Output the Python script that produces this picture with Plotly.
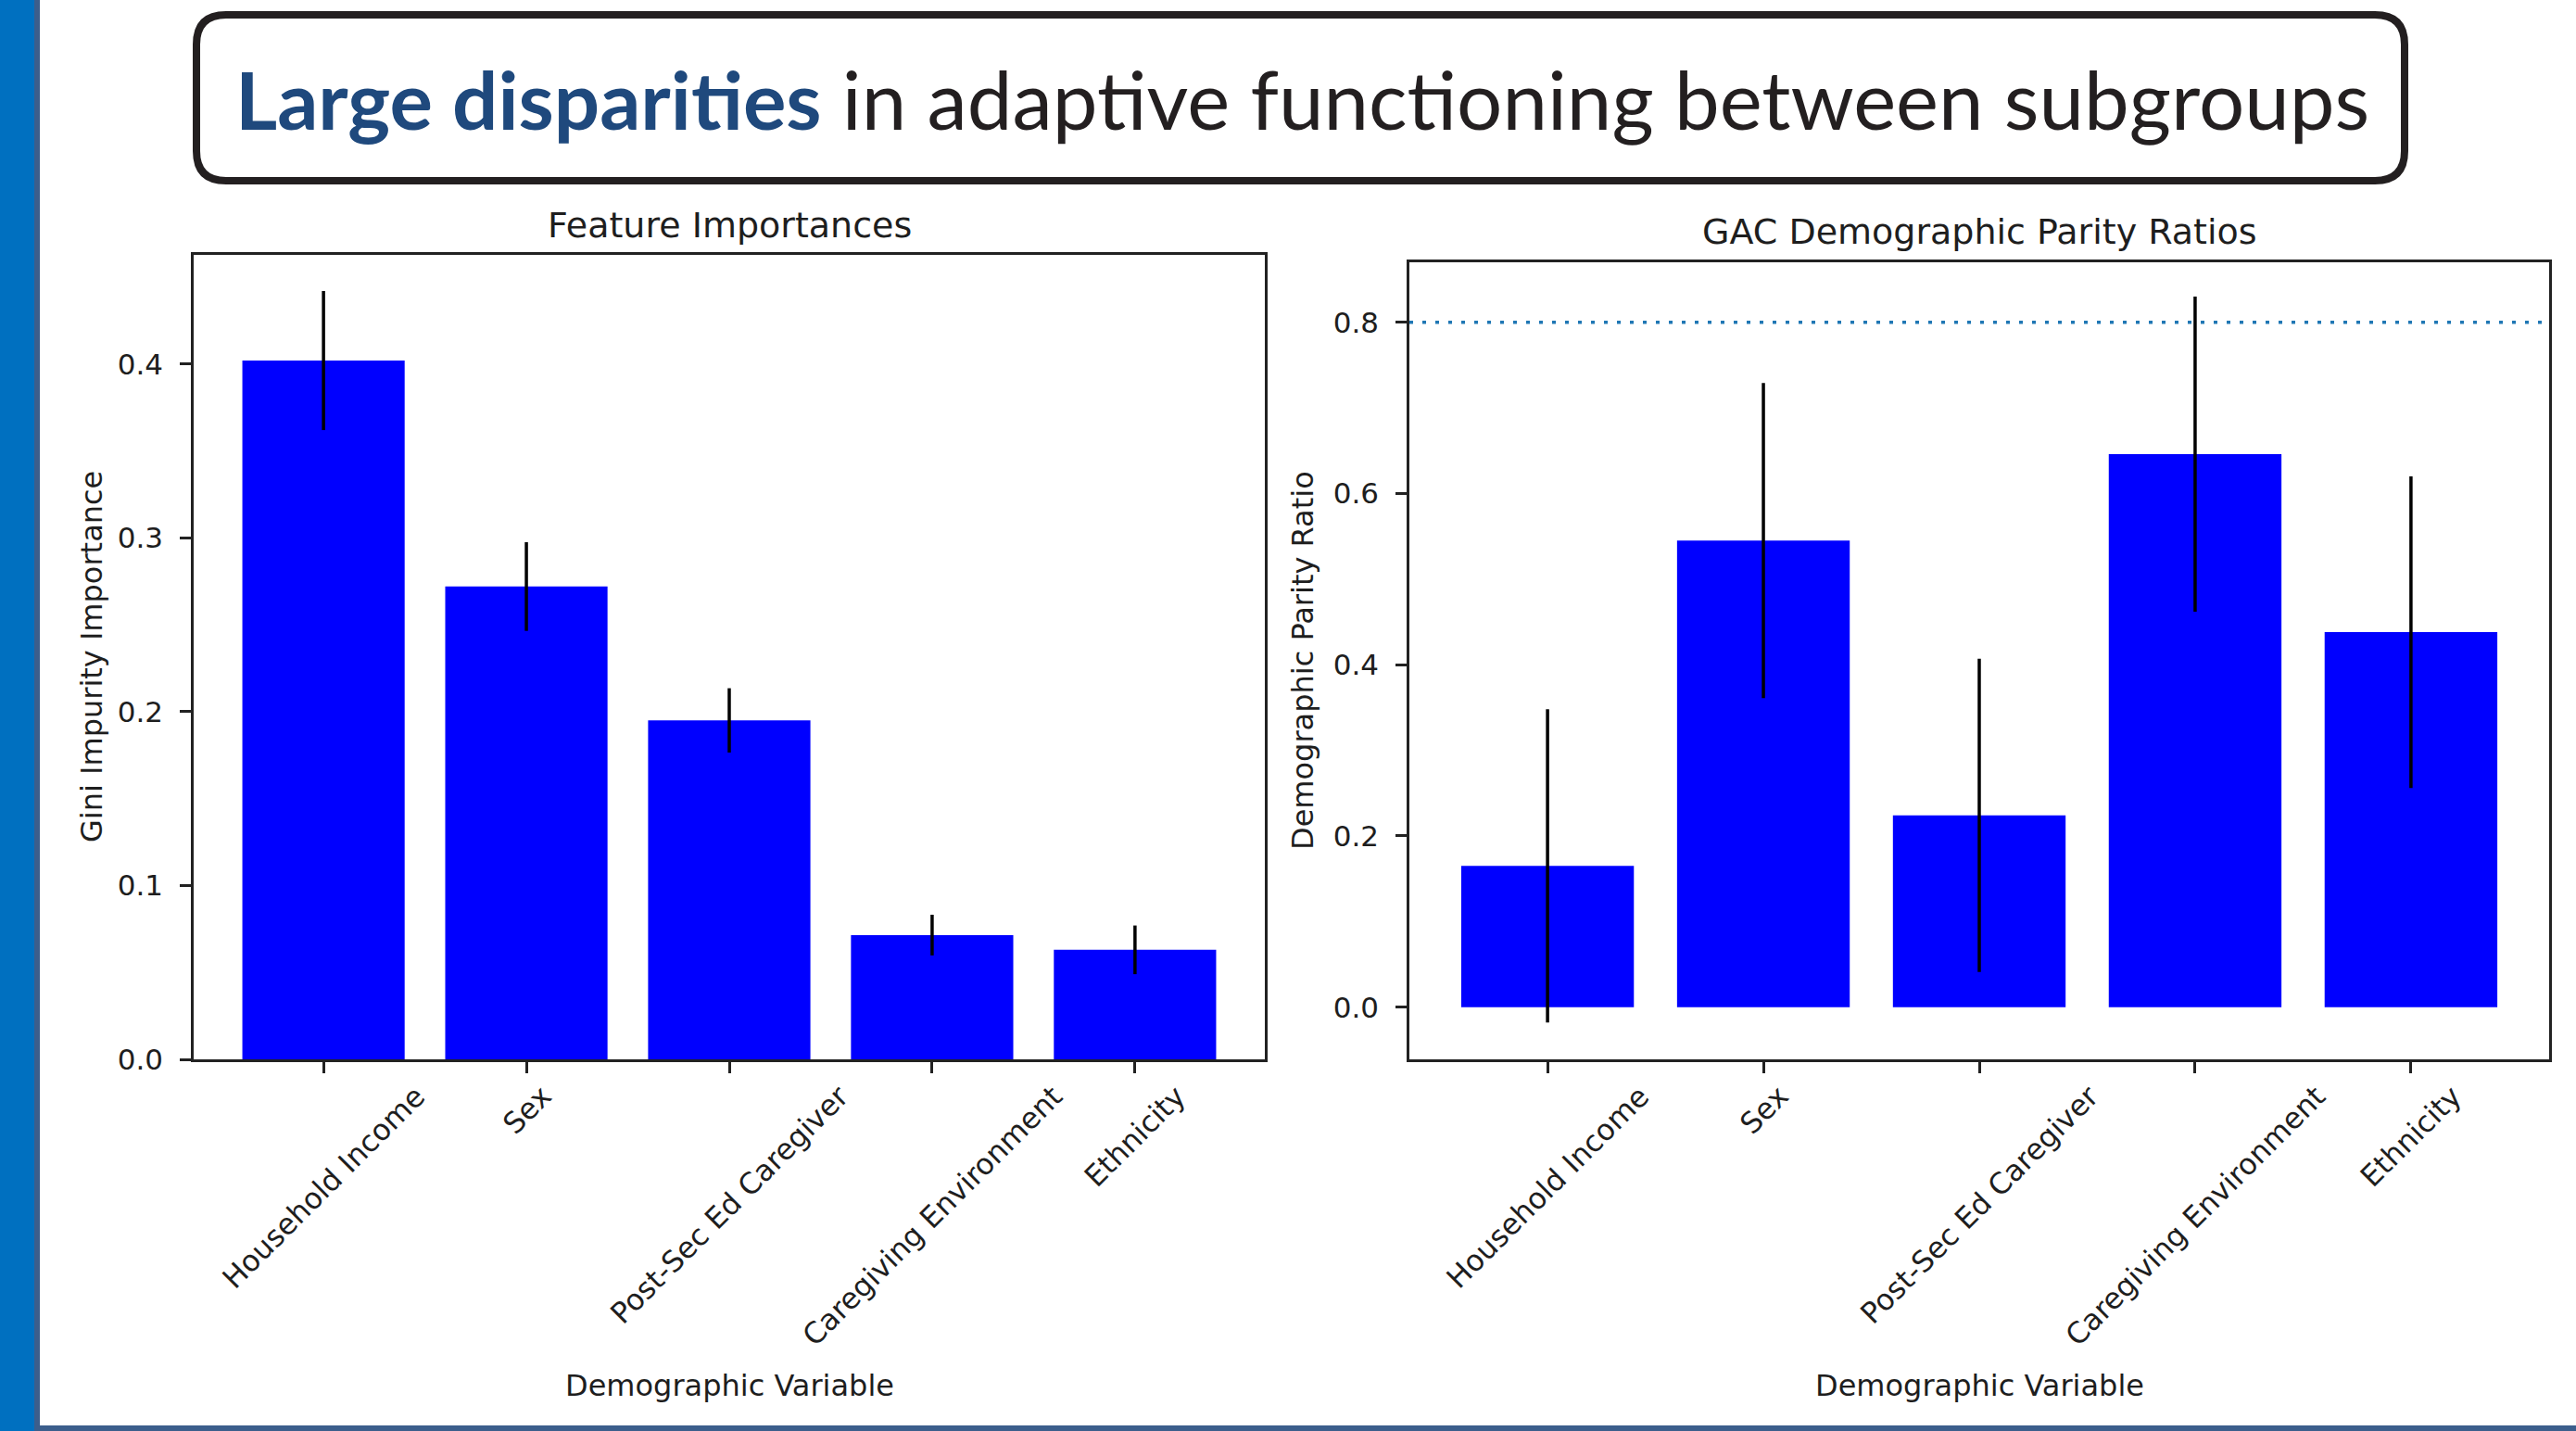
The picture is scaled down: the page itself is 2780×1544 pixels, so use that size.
import plotly.graph_objects as go

W, H = 2780, 1544

# ---------------- data ----------------
categories = ["Household Income", "Sex", "Post-Sec Ed Caregiver",
              "Caregiving Environment", "Ethnicity"]
gini_importance = [0.402, 0.272, 0.195, 0.0715, 0.063]
gini_err = [0.040, 0.0255, 0.0185, 0.0117, 0.014]
parity_ratio = [0.165, 0.545, 0.224, 0.646, 0.438]
parity_err = [0.183, 0.184, 0.183, 0.184, 0.182]
parity_threshold = 0.8
left_yticks = [0.0, 0.1, 0.2, 0.3, 0.4]
right_yticks = [0.0, 0.2, 0.4, 0.6, 0.8]

headline_bold = "Large disparities"
headline_rest = " in adaptive functioning between subgroups"
left_title = "Feature Importances"
right_title = "GAC Demographic Parity Ratios"
left_ylabel = "Gini Impurity Importance"
right_ylabel = "Demographic Parity Ratio"
xlabel = "Demographic Variable"

# ---------------- helpers ----------------
def px(x):
    return x / W

def py(y):
    return 1 - y / H

TXT = "#1e1e1e"
FONT = "DejaVu Sans"
BAR = "#0000FF"

fig = go.Figure()

err_style = dict(type="data", visible=True, color="black", thickness=3.5, width=0)
fig.add_trace(go.Bar(x=categories, y=gini_importance, width=0.8,
                     marker=dict(color=BAR, line=dict(width=0)),
                     error_y=dict(array=gini_err, **err_style),
                     xaxis="x", yaxis="y", showlegend=False))
fig.add_trace(go.Bar(x=categories, y=parity_ratio, width=0.8,
                     marker=dict(color=BAR, line=dict(width=0)),
                     error_y=dict(array=parity_err, **err_style),
                     xaxis="x2", yaxis="y2", showlegend=False))

axis_common = dict(showline=True, linecolor="#222", linewidth=2.5, mirror=True,
                   ticks="outside", ticklen=12, tickwidth=2.5, tickcolor="#222",
                   showgrid=False, zeroline=False,
                   tickfont=dict(family=FONT, size=31, color=TXT))

L = (209, 1365, 275, 1143)
R = (1521, 2751, 283, 1143)

fig.update_layout(
    width=W, height=H, template="none",
    margin=dict(l=0, r=0, t=0, b=0),
    paper_bgcolor="white", plot_bgcolor="white",
    xaxis=dict(domain=[px(L[0]), px(L[1])], range=[-0.64, 4.64],
               showticklabels=False, anchor="y", **axis_common),
    yaxis=dict(domain=[py(L[3]), py(L[2])], range=[0, 0.4628],
               tickvals=left_yticks, tickformat=".1f", anchor="x",
               ticklabelstandoff=12, **axis_common),
    xaxis2=dict(domain=[px(R[0]), px(R[1])], range=[-0.64, 4.64],
                showticklabels=False, anchor="y2", **axis_common),
    yaxis2=dict(domain=[py(R[3]), py(R[2])], range=[-0.061, 0.870],
                tickvals=right_yticks, tickformat=".1f", anchor="x2",
                ticklabelstandoff=12, **axis_common),
)

annotations = []
# rotated category labels (centred under tick, like matplotlib rotation=45)
for xa, ya in (("x", "y"), ("x2", "y2")):
    for c in categories:
        annotations.append(dict(x=c, xref=xa, y=0, yref=ya + " domain",
                                text=c, showarrow=False, textangle=-45,
                                xanchor="center", yanchor="top", yshift=-19,
                                font=dict(family=FONT, size=31.5, color=TXT)))

# subplot titles
annotations.append(dict(x=px((L[0] + L[1]) / 2), y=py(243), xref="paper", yref="paper",
                        text=left_title, showarrow=False, xanchor="center", yanchor="middle",
                        font=dict(family=FONT, size=38, color=TXT)))
annotations.append(dict(x=px((R[0] + R[1]) / 2), y=py(250), xref="paper", yref="paper",
                        text=right_title, showarrow=False, xanchor="center", yanchor="middle",
                        font=dict(family=FONT, size=38, color=TXT)))
# axis titles
annotations.append(dict(x=px(99), y=py(709), xref="paper", yref="paper", text=left_ylabel,
                        textangle=-90, showarrow=False, xanchor="center", yanchor="middle",
                        font=dict(family=FONT, size=32, color=TXT)))
annotations.append(dict(x=px(1406), y=py(713), xref="paper", yref="paper", text=right_ylabel,
                        textangle=-90, showarrow=False, xanchor="center", yanchor="middle",
                        font=dict(family=FONT, size=32, color=TXT)))
for cx in ((L[0] + L[1]) / 2, (R[0] + R[1]) / 2):
    annotations.append(dict(x=px(cx), y=py(1495), xref="paper", yref="paper", text=xlabel,
                            showarrow=False, xanchor="center", yanchor="middle",
                            font=dict(family=FONT, size=32, color=TXT)))

# headline
annotations.append(dict(x=px(1405), y=py(106), xref="paper", yref="paper",
                        text=f"<b><span style='color:#1F497D'>{headline_bold}</span></b>{headline_rest}",
                        showarrow=False, xanchor="center", yanchor="middle",
                        font=dict(family="Lato", size=87, color="#231F20")))

# ---------------- decorative shapes ----------------
def rounded_rect(x0, y0, x1, y1, r):
    X = lambda v: f"{px(v):.6f}"
    Y = lambda v: f"{py(v):.6f}"
    return (f"M {X(x0 + r)},{Y(y0)} L {X(x1 - r)},{Y(y0)} Q {X(x1)},{Y(y0)} {X(x1)},{Y(y0 + r)} "
            f"L {X(x1)},{Y(y1 - r)} Q {X(x1)},{Y(y1)} {X(x1 - r)},{Y(y1)} "
            f"L {X(x0 + r)},{Y(y1)} Q {X(x0)},{Y(y1)} {X(x0)},{Y(y1 - r)} "
            f"L {X(x0)},{Y(y0 + r)} Q {X(x0)},{Y(y0)} {X(x0 + r)},{Y(y0)} Z")

shapes = [
    dict(type="rect", xref="paper", yref="paper", x0=0, x1=px(37), y0=0, y1=1,
         fillcolor="#0070C0", line=dict(width=0), layer="below"),
    dict(type="rect", xref="paper", yref="paper", x0=px(37), x1=px(43), y0=0, y1=1,
         fillcolor="#3B5E8C", line=dict(width=0), layer="below"),
    dict(type="rect", xref="paper", yref="paper", x0=px(37), x1=1, y0=0, y1=py(1538),
         fillcolor="#3B5E8C", line=dict(width=0), layer="below"),
    dict(type="path", xref="paper", yref="paper", path=rounded_rect(212, 16, 2595, 195, 32),
         line=dict(color="#231F20", width=8), fillcolor="rgba(0,0,0,0)"),
    dict(type="line", xref="x2 domain", yref="y2", x0=0, x1=1,
         y0=parity_threshold, y1=parity_threshold,
         line=dict(color="#1f77b4", width=3.5, dash="4px,10px")),
]

fig.update_layout(annotations=annotations, shapes=shapes)

fig.write_html("out.html", config={"displayModeBar": False},
               post_script="document.body.style.margin='0';document.body.style.overflow='hidden';")
